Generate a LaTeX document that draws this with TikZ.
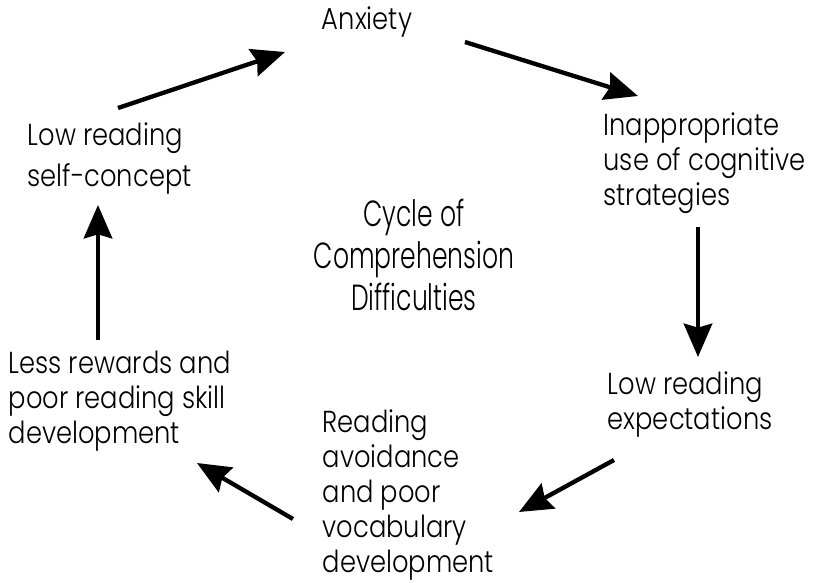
\documentclass[tikz,border=0pt]{standalone}
\usepackage{fontspec}
\setmainfont{Poppins Light}[FakeStretch=0.85]
\newfontfamily\cyclefont{Poppins Light}[FakeStretch=0.69]
\usetikzlibrary{arrows.meta}
\tikzset{
	label text/.style={inner sep=0pt, align=left, font=\fontsize{9.1}{10.5}\selectfont},
	cycle arrow/.style={line width=1.3pt, -{Stealth[length=10pt, width=8.5pt, inset=1.2pt]}}
}
\begin{document}
\begin{tikzpicture}[x=0.3pt, y=-0.3pt]
	\useasboundingbox (0,0) rectangle (817,583);
	\node[label text, anchor=center] (anx) at (367,22) {Anxiety};
	\node[label text, anchor=west] (inapp) at (603,163) {Inappropriate\\use of cognitive\\strategies};
	\node[label text, anchor=west] (lowexp) at (607,405) {Low reading\\expectations};
	\node[label text, anchor=west] (avoid) at (322,495) {Reading\\avoidance\\and poor\\vocabulary\\development};
	\node[label text, anchor=west] (less) at (8,401) {Less rewards and\\poor reading skill\\development};
	\node[label text, anchor=west, font=\fontsize{9.1}{12.3}\selectfont] (self) at (27,159) {Low reading\\self-concept};
	\node[inner sep=0pt, align=center, font=\cyclefont\fontsize{10.9}{12.6}\selectfont] (cycle) at (414,255) {Cycle of\\Comprehension\\Difficulties};
	
	\coordinate (a1) at (118,108); \coordinate (b1) at (285,52);
	\coordinate (a2) at (465,42);  \coordinate (b2) at (638,96);
	\coordinate (a3) at (698,227); \coordinate (b3) at (698,357);
	\coordinate (a4) at (614,460); \coordinate (b4) at (519,512);
	\coordinate (a5) at (293,519); \coordinate (b5) at (197,463);
	\coordinate (a6) at (98,340);  \coordinate (b6) at (98,205);
	\draw[cycle arrow] (a1) -- (b1);
	\draw[cycle arrow] (a2) -- (b2);
	\draw[cycle arrow] (a3) -- (b3);
	\draw[cycle arrow] (a4) -- (b4);
	\draw[cycle arrow] (a5) -- (b5);
	\draw[cycle arrow] (a6) -- (b6);
\end{tikzpicture}
\end{document}
